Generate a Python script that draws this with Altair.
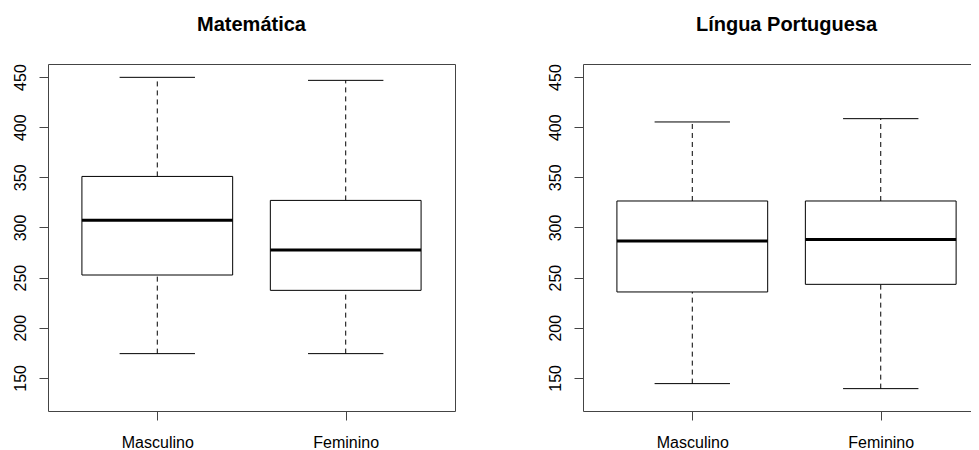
import altair as alt
import pandas as pd

groups = ["Masculino", "Feminino"]
positions = [1, 2]

mat_lower = [174.2, 174.2]
mat_q1 = [252.6, 237.3]
mat_median = [307.1, 277.5]
mat_q3 = [350.9, 327.0]
mat_upper = [449.7, 446.7]

por_lower = [144.3, 139.3]
por_q1 = [235.7, 243.3]
por_median = [286.5, 288.1]
por_q3 = [326.4, 326.4]
por_upper = [405.2, 408.5]

titles = ["Matemática", "Língua Portuguesa"]
y_domain = [117, 463]
y_ticks = [150, 200, 250, 300, 350, 400, 450]

FONT = "Liberation Sans"
FRAME = "#444444"

label_expr = " : ".join(
    f"datum.value == {p} ? '{g}'" for p, g in zip(positions, groups)
) + " : ''"


def panel(title, lower, q1, median, q3, upper, width, x_max, right_border, dx):
    df = pd.DataFrame(dict(grupo=groups, pos=positions, lower=lower, q1=q1,
                           median=median, q3=q3, upper=upper))
    xs = alt.Scale(domain=[0.42, x_max], nice=False, zero=False)
    ys = alt.Scale(domain=y_domain, nice=False, zero=False)
    base = alt.Chart(df).transform_calculate(
        box_l="datum.pos - 0.4", box_r="datum.pos + 0.4",
        cap_l="datum.pos - 0.2", cap_r="datum.pos + 0.2",
    )
    x_axis = alt.Axis(values=positions, labelExpr=label_expr, title=None, orient="bottom",
                      grid=False, domain=True, ticks=True, tickSize=9, labelPadding=27,
                      labelBaseline="alphabetic", labelFontSize=16, labelFont=FONT,
                      labelColor="black", domainColor=FRAME, tickColor=FRAME,
                      labelFlush=False, labelOverlap=False)
    y_axis = alt.Axis(values=y_ticks, title=None, orient="left", grid=False, domain=True,
                      ticks=True, tickSize=9, labelPadding=14, labelAngle=270,
                      labelAlign="center", labelBaseline="alphabetic", labelFontSize=16,
                      labelFont=FONT, labelColor="black", domainColor=FRAME, tickColor=FRAME,
                      minExtent=40, maxExtent=40, labelOverlap=False, labelFlush=False)

    whisk_hi = base.mark_rule(color="black", strokeWidth=1, strokeDash=[5, 4]).encode(
        x=alt.X("pos:Q", scale=xs, axis=None),
        y=alt.Y("q3:Q", scale=ys, axis=None), y2="upper:Q")
    whisk_lo = base.mark_rule(color="black", strokeWidth=1, strokeDash=[5, 4]).encode(
        x=alt.X("pos:Q", scale=xs, axis=None),
        y=alt.Y("lower:Q", scale=ys, axis=None), y2="q1:Q")
    cap_hi = base.mark_rule(color="black", strokeWidth=1).encode(
        x=alt.X("cap_l:Q", scale=xs, axis=None), x2="cap_r:Q",
        y=alt.Y("upper:Q", scale=ys, axis=None))
    cap_lo = base.mark_rule(color="black", strokeWidth=1).encode(
        x=alt.X("cap_l:Q", scale=xs, axis=None), x2="cap_r:Q",
        y=alt.Y("lower:Q", scale=ys, axis=None))
    box = base.mark_rect(fill="white", stroke="black", strokeWidth=1).encode(
        x=alt.X("box_l:Q", scale=xs, axis=x_axis), x2="box_r:Q",
        y=alt.Y("q1:Q", scale=ys, axis=y_axis), y2="q3:Q")
    med = base.mark_rule(color="black", strokeWidth=3).encode(
        x=alt.X("box_l:Q", scale=xs, axis=None), x2="box_r:Q",
        y=alt.Y("median:Q", scale=ys, axis=None))

    border_x_axis = alt.Axis(orient="top", labels=False, ticks=False, domain=True,
                             domainColor=FRAME, title=None, grid=False,
                             minExtent=0, maxExtent=0)
    if right_border:
        border_y = alt.Y("median:Q", scale=ys, axis=alt.Axis(
            orient="right", labels=False, ticks=False, domain=True, domainColor=FRAME,
            title=None, grid=False, minExtent=0, maxExtent=0))
    else:
        border_y = alt.Y("median:Q", scale=ys, axis=None)
    border = base.mark_rule(opacity=0).encode(
        x=alt.X("box_l:Q", scale=xs, axis=border_x_axis), x2="box_r:Q", y=border_y)

    return alt.layer(whisk_hi, whisk_lo, cap_hi, cap_lo, box, med, border).resolve_axis(
        x="independent", y="independent"
    ).properties(
        width=width, height=347,
        title=alt.TitleParams(text=title, font=FONT, fontSize=20, fontWeight="bold",
                              color="black", anchor="middle", frame="group",
                              baseline="alphabetic", offset=13, dx=dx),
    )


left = panel(titles[0], mat_lower, mat_q1, mat_median, mat_q3, mat_upper,
             407, 2.58, True, 0)
right = panel(titles[1], por_lower, por_q1, por_median, por_q3, por_upper,
              388, 2.479, False, 9.5)

chart = alt.hconcat(left, right, spacing=88).properties(
    padding={"left": 0, "top": 6, "right": 0, "bottom": 0},
    background="white",
).configure_view(stroke=None)

chart.save("out.html", embed_options={"renderer": "svg", "actions": False})
